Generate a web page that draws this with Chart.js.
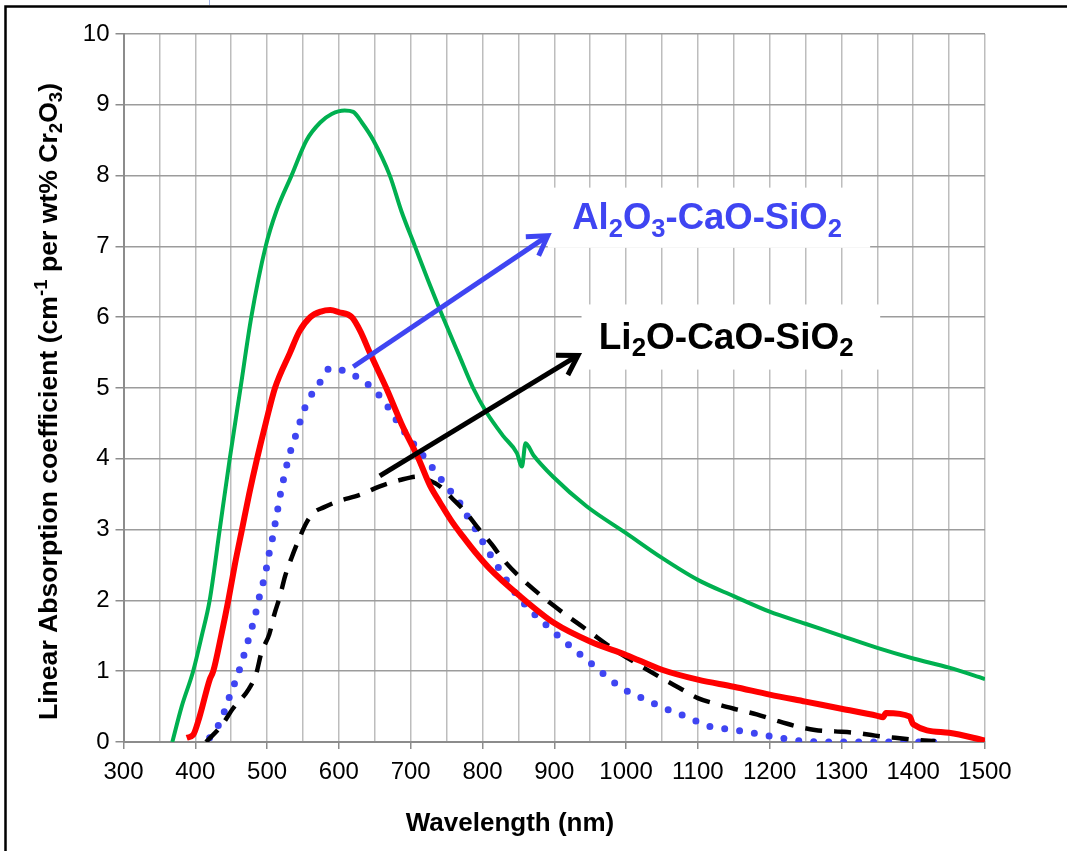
<!DOCTYPE html>
<html>
<head>
<meta charset="utf-8">
<script src="https://cdn.jsdelivr.net/npm/chart.js@4.4.1/dist/chart.umd.min.js"></script>
<style>
  html, body { margin: 0; padding: 0; background: #fff; }
  #wrap { width: 1067px; height: 851px; position: relative; }
</style>
</head>
<body>
<div id="wrap"><canvas id="absChart" width="1067" height="851"></canvas></div>
<script>
// Wavelength (nm) / absorption pairs
const greenNm = [368, 381, 397, 409, 420, 434, 448, 463, 478, 498, 513, 534, 555, 574, 590, 608, 620, 632, 648, 671, 687, 706, 725, 745, 768, 787, 806, 829, 848, 855, 860, 871, 898, 945, 1000, 1050, 1100, 1150, 1200, 1250, 1300, 1350, 1400, 1450, 1500];
const greenAbs = [0, 0.5, 1.0, 1.5, 2.0, 3.0, 4.0, 5.0, 6.0, 7.0, 7.5, 8.0, 8.5, 8.75, 8.87, 8.92, 8.9, 8.75, 8.5, 8.0, 7.5, 7.0, 6.5, 6.0, 5.45, 5.0, 4.65, 4.32, 4.08, 3.89, 4.22, 4.05, 3.75, 3.33, 2.95, 2.6, 2.29, 2.06, 1.84, 1.67, 1.5, 1.33, 1.18, 1.05, 0.89];

const redNm = [388, 397, 406, 420, 425, 436, 446, 455, 465, 475, 486, 498, 511, 532, 545, 560, 575, 588, 600, 618, 630, 643, 666, 687, 711, 727, 741, 757, 773, 790, 810, 850, 900, 950, 1000, 1050, 1100, 1150, 1200, 1250, 1300, 1350, 1358, 1362, 1395, 1400, 1450, 1500];
const redAbs = [0.06, 0.1, 0.36, 0.88, 1.0, 1.5, 2.0, 2.5, 3.0, 3.5, 4.0, 4.5, 5.0, 5.5, 5.8, 6.0, 6.08, 6.1, 6.07, 6.0, 5.8, 5.5, 5.0, 4.5, 4.0, 3.62, 3.38, 3.12, 2.9, 2.68, 2.45, 2.08, 1.68, 1.42, 1.23, 1.02, 0.88, 0.78, 0.67, 0.57, 0.47, 0.37, 0.35, 0.41, 0.36, 0.25, 0.13, 0.02];

const blueNm = [420, 433, 442, 449, 457, 464, 471, 477, 483, 488, 494, 499, 503, 508, 512, 516, 520, 525, 530, 537, 544, 551, 561, 573, 586, 600, 607, 627, 644, 661, 673, 685, 705, 727, 741, 755, 769, 780, 792, 803, 815, 850, 900, 950, 970, 990, 1009, 1030, 1050, 1071, 1092, 1113, 1135, 1158, 1180, 1202, 1225, 1250, 1300, 1430];
const blueAbs = [0.06, 0.25, 0.47, 0.68, 0.89, 1.1, 1.34, 1.55, 1.77, 2.0, 2.23, 2.45, 2.67, 2.9, 3.13, 3.35, 3.58, 3.8, 4.02, 4.24, 4.46, 4.68, 4.89, 5.07, 5.27, 5.28, 5.23, 5.15, 5.02, 4.84, 4.66, 4.47, 4.2, 3.92, 3.73, 3.55, 3.37, 3.17, 2.98, 2.78, 2.58, 2.05, 1.55, 1.12, 0.95, 0.79, 0.68, 0.59, 0.49, 0.41, 0.32, 0.23, 0.19, 0.16, 0.12, 0.08, 0.04, 0.01, 0, 0];

const blackNm = [415, 437, 453, 474, 485, 492, 503, 510, 518, 525, 534, 545, 555, 565, 578, 599, 629, 657, 685, 711, 725, 741, 757, 778, 794, 813, 827, 850, 900, 950, 980, 1050, 1075, 1100, 1128, 1154, 1182, 1207, 1238, 1263, 1291, 1319, 1347, 1375, 1403, 1431];
const blackAbs = [0, 0.24, 0.48, 0.74, 0.97, 1.26, 1.52, 1.8, 2.06, 2.34, 2.6, 2.88, 3.1, 3.24, 3.31, 3.4, 3.49, 3.61, 3.7, 3.75, 3.7, 3.61, 3.45, 3.23, 3.02, 2.79, 2.6, 2.35, 1.92, 1.55, 1.33, 0.9, 0.76, 0.62, 0.53, 0.46, 0.39, 0.31, 0.22, 0.17, 0.15, 0.13, 0.09, 0.06, 0.03, 0.01];

const FONT = '"Liberation Sans", Arial, sans-serif';
const BLUE = '#3f45f2';

// text pieces: [text, 0 normal | 1 subscript | -1 superscript]
const yTitle = [['Linear Absorption coefficient (cm', 0], ['-1', -1], [' per wt% Cr', 0], ['2', 1], ['O', 0], ['3', 1], [')', 0]];
const alLabel = [['Al', 0], ['2', 1], ['O', 0], ['3', 1], ['-CaO-SiO', 0], ['2', 1]];
const liLabel = [['Li', 0], ['2', 1], ['O-CaO-SiO', 0], ['2', 1]];

function pts(xs, ys) {
    return xs.map((x, i) => ({ x: x, y: ys[i] }));
}

function richWidth(ctx, parts, size) {
    let w = 0;
    parts.forEach(p => {
        ctx.font = 'bold ' + (p[1] ? size * 0.7 : size) + 'px ' + FONT;
        w += ctx.measureText(p[0]).width;
    });
    return w;
}

function drawRich(ctx, parts, x, y, size, color) {
    ctx.fillStyle = color;
    ctx.textAlign = 'left';
    ctx.textBaseline = 'alphabetic';
    let cx = x;
    parts.forEach(p => {
        const fs = p[1] ? size * 0.7 : size;
        ctx.font = 'bold ' + fs + 'px ' + FONT;
        const dy = p[1] === 1 ? size * 0.2 : (p[1] === -1 ? -size * 0.36 : 0);
        ctx.fillText(p[0], cx, y + dy);
        cx += ctx.measureText(p[0]).width;
    });
}

function arrow(ctx, x1, y1, x2, y2, color) {
    const ang = Math.atan2(y2 - y1, x2 - x1);
    const head = 22, spread = 0.55;
    ctx.save();
    ctx.strokeStyle = color;
    ctx.lineWidth = 5;
    ctx.lineCap = 'butt';
    ctx.beginPath();
    ctx.moveTo(x1, y1);
    ctx.lineTo(x2 - Math.cos(ang) * 2, y2 - Math.sin(ang) * 2);
    ctx.stroke();
    ctx.lineJoin = 'miter';
    ctx.beginPath();
    ctx.moveTo(x2 - head * Math.cos(ang - spread), y2 - head * Math.sin(ang - spread));
    ctx.lineTo(x2, y2);
    ctx.lineTo(x2 - head * Math.cos(ang + spread), y2 - head * Math.sin(ang + spread));
    ctx.stroke();
    ctx.restore();
}

const decorPlugin = {
    id: 'decor',
    beforeDraw(chart) {
        const ctx = chart.ctx;
        ctx.save();
        ctx.fillStyle = '#fff';
        ctx.fillRect(0, 0, chart.width, chart.height);
        ctx.strokeStyle = '#000';
        ctx.lineWidth = 2.5;
        ctx.beginPath();
        ctx.moveTo(5.5, chart.height);
        ctx.lineTo(5.5, 6.5);
        ctx.lineTo(chart.width, 6.5);
        ctx.stroke();
        ctx.strokeStyle = '#9fb3e6';
        ctx.lineWidth = 1;
        ctx.beginPath();
        ctx.moveTo(209.5, 0);
        ctx.lineTo(209.5, 5);
        ctx.stroke();
        ctx.restore();
    },
    beforeDatasetsDraw(chart) {
        const ctx = chart.ctx;
        const sx = chart.scales.x, sy = chart.scales.y;
        ctx.save();
        // white boxes behind the labels
        ctx.fillStyle = '#fff';
        const boxes = [[891, 7.83, 1340, 6.98], [938, 6.18, 1354, 5.26]];
        boxes.forEach(b => {
            const l = sx.getPixelForValue(b[0]), t = sy.getPixelForValue(b[1]);
            const r = sx.getPixelForValue(b[2]), bt = sy.getPixelForValue(b[3]);
            ctx.fillRect(l, t, r - l, bt - t);
        });
        drawRich(ctx, alLabel, sx.getPixelForValue(925), sy.getPixelForValue(7.24), 36.5, BLUE);
        drawRich(ctx, liLabel, sx.getPixelForValue(962), sy.getPixelForValue(5.55), 37, '#000');

        // axis titles
        const w = richWidth(ctx, yTitle, 26.6);
        ctx.translate(57, 401.5);
        ctx.rotate(-Math.PI / 2);
        drawRich(ctx, yTitle, -w / 2, 0, 26.6, '#000');
        ctx.setTransform(1, 0, 0, 1, 0, 0);
        ctx.font = 'bold 26px ' + FONT;
        ctx.textAlign = 'center';
        ctx.fillStyle = '#000';
        ctx.fillText('Wavelength (nm)', 510, 831);
        ctx.restore();
    },
    afterDatasetsDraw(chart) {
        const ctx = chart.ctx;
        const sx = chart.scales.x, sy = chart.scales.y;
        arrow(ctx, sx.getPixelForValue(620), sy.getPixelForValue(5.3),
            sx.getPixelForValue(891), sy.getPixelForValue(7.15), BLUE);
        arrow(ctx, sx.getPixelForValue(657), sy.getPixelForValue(3.76),
            sx.getPixelForValue(933), sy.getPixelForValue(5.46), '#000');
    }
};

new Chart(document.getElementById('absChart').getContext('2d'), {
    type: 'scatter',
    data: {
        datasets: [
            {
                label: 'red',
                data: pts(redNm, redAbs),
                borderColor: '#ff0000',
                borderWidth: 6,
                showLine: true,
                pointRadius: 0,
                cubicInterpolationMode: 'monotone'
            },
            {
                label: 'Li2O-CaO-SiO2',
                data: pts(blackNm, blackAbs),
                borderColor: '#000',
                borderWidth: 4.5,
                borderDash: [17, 12],
                showLine: true,
                pointRadius: 0,
                cubicInterpolationMode: 'monotone'
            },
            {
                label: 'Al2O3-CaO-SiO2',
                data: pts(blueNm, blueAbs),
                borderColor: BLUE,
                borderWidth: 7,
                borderDash: [0, 15],
                borderCapStyle: 'round',
                showLine: true,
                pointRadius: 0,
                cubicInterpolationMode: 'monotone'
            },
            {
                label: 'green',
                data: pts(greenNm, greenAbs),
                borderColor: '#00b050',
                borderWidth: 4,
                showLine: true,
                pointRadius: 0,
                cubicInterpolationMode: 'monotone'
            }
        ]
    },
    options: {
        responsive: false,
        devicePixelRatio: 1,
        animation: false,
        layout: { padding: { top: 34, right: 82, left: 0, bottom: 0 } },
        plugins: {
            legend: { display: false },
            tooltip: { enabled: false }
        },
        scales: {
            x: {
                type: 'linear',
                min: 300,
                max: 1500,
                afterFit: s => { s.height = 109; },
                border: { color: '#8c8c8c', width: 2 },
                grid: {
                    color: '#bdbdbd',
                    lineWidth: 1.5,
                    tickLength: 7,
                    tickColor: c => (c.tick && c.tick.value % 100 === 0) ? '#8c8c8c' : 'rgba(0,0,0,0)'
                },
                ticks: {
                    stepSize: 50,
                    autoSkip: false,
                    maxRotation: 0,
                    padding: 9,
                    color: '#000',
                    font: { family: FONT, size: 24 },
                    callback: v => (v % 100 === 0 ? v : '')
                }
            },
            y: {
                min: 0,
                max: 10,
                afterFit: s => { s.width = 123.5; },
                border: { color: '#8c8c8c', width: 2 },
                grid: {
                    color: '#9c9c9c',
                    lineWidth: 1.5,
                    tickLength: 8,
                    tickColor: '#8c8c8c'
                },
                ticks: {
                    stepSize: 1,
                    padding: 6,
                    color: '#000',
                    font: { family: FONT, size: 24 }
                }
            }
        }
    },
    plugins: [decorPlugin]
});
</script>
</body>
</html>
